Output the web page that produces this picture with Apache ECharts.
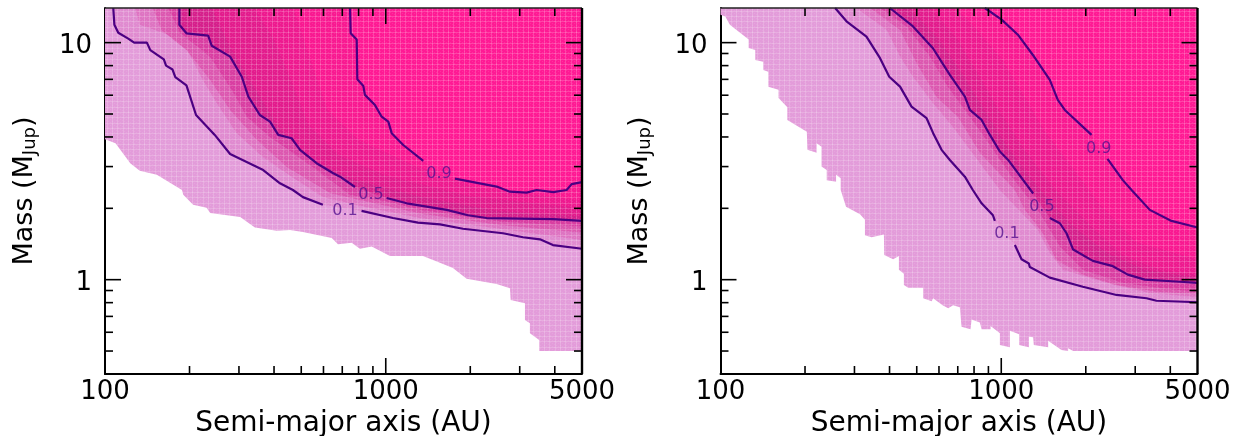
<!DOCTYPE html>
<html><head><meta charset="utf-8"><style>html,body{margin:0;background:#fff}#c{width:1241px;height:436px}</style>
<script src="https://cdn.jsdelivr.net/npm/echarts@6/dist/echarts.min.js"></script></head>
<body><div id="c"></div><script>
const xMajor=[1000], xMinor=[200,300,400,500,600,700,800,900,2000,3000,4000];
const yMajor=[1,10], yMinor=[0.5,0.6,0.7,0.8,0.9,2,3,4,5,6,7,8,9];
const xLabels=[100,1000,5000], yLabels=[1,10];
const levelColors=['#E39CDA','#E08BD0','#DE74C2','#DC58B0','#D93EA2','#D6208C','#E31C8D','#EE1A8F','#F91991','#FF1A94'];

// LEFT PANEL: [semi-major axis, mass]
const edgeL=[[100,3.91],[109,3.76],[116,3.41],[123,3.10],[133,2.88],[153,2.77],[188,2.39],[190,2.28],[206,2.07],[230,2.01],[237,1.91],[303,1.84],[342,1.66],[409,1.61],[456,1.62],[507,1.59],[642,1.50],[676,1.41],[756,1.43],[809,1.35],[891,1.38],[1035,1.26],[1357,1.26],[1560,1.18],[1735,1.12],[1941,1.01],[2483,0.96],[2769,0.92],[2785,0.82],[3132,0.795],[3132,0.676],[3262,0.655],[3262,0.594],[3520,0.557],[3520,0.5],[5000,0.5]];
const c01La=[[107,14],[108,11.9],[111.5,11.0],[121,10.4],[127,10],[141,10],[145,9.3],[162,8.5],[165,8],[174,7.7],[178,7.15],[195,6.6],[211,4.95],[246,4.08],[279,3.39],[366,2.90],[420,2.55],[467,2.39],[507,2.23],[597,2.07]];
const c01Lb=[[820,1.95],[1061,1.82],[1302,1.74],[1560,1.71],[1883,1.64],[2615,1.57],[3080,1.51],[3541,1.48],[3939,1.40],[5000,1.35]];
const c02L=[[128,14],[133,11.9],[188,10.3],[223,6.96],[250,5.57],[294,4.16],[365,3.29],[482,2.63],[597,2.23],[809,2.05],[1324,1.82],[2551,1.64],[5000,1.47]];
const c03L=[[148,14],[159,11.3],[195,9.3],[237,6.96],[279,5.2],[347,3.89],[444,2.99],[633,2.32],[809,2.17],[1324,1.90],[2551,1.70],[5000,1.58]];
const c04L=[[168,14],[185,11.0],[237,8.7],[283,6.31],[320,4.86],[387,4.0],[523,3.11],[746,2.28],[1000,2.14],[1324,1.97],[2551,1.76],[5000,1.68]];
const c05La=[[184,14],[184,11.9],[195,10.95],[233,10.7],[240,9.7],[279,8.73],[307,7.18],[324,5.92],[356,4.95],[387,4.64],[414,4.08],[462,3.95],[495,3.53],[567,3.10],[650,2.81],[687,2.72],[777,2.46]];
const c05Lb=[[1007,2.21],[1187,2.10],[1648,1.97],[1962,1.87],[2287,1.82],[3939,1.80],[5000,1.77]];
const c06L=[[240,14],[280,9.5],[345,6.3],[410,4.5],[520,3.3],[760,2.65],[1300,2.25],[2500,1.95],[5000,1.85]];
const c07L=[[340,14],[400,10.3],[460,6.96],[530,4.5],[680,3.36],[1000,2.75],[1995,2.25],[5000,2.0]];
const c08L=[[470,14],[540,8.45],[620,5.2],[800,3.89],[1250,3.05],[2100,2.45],[5000,2.15]];
const c09La=[[746,14],[750,10.95],[788,10.3],[792,7.0],[832,6.57],[843,6.02],[915,5.46],[967,4.87],[1021,4.64],[1050,4.15],[1154,3.70],[1360,3.17]];
const c09Lb=[[1764,2.67],[2483,2.47],[2769,2.35],[3175,2.33],[3446,2.39],[3949,2.34],[4408,2.39],[4593,2.53],[5000,2.58]];
const labelsL=[[716,1.95,'0.1'],[886,2.28,'0.5'],[1547,2.79,'0.9']];

// RIGHT PANEL
const edgeR=[[100,13.1],[104,12.9],[108,11.9],[126,10.3],[126,9.5],[133,9.3],[133,8.45],[142,8.31],[142,7.67],[148,7.54],[148,6.52],[161,6.32],[161,5.84],[173,5.34],[173,4.72],[203,4.21],[204,3.53],[220,3.43],[220,3.76],[229,3.64],[229,3.0],[239,2.9],[239,2.63],[258,2.59],[258,2.77],[268,2.68],[268,2.39],[280,2.03],[314,1.89],[327,1.79],[327,1.54],[345,1.51],[382,1.55],[383,1.27],[412,1.22],[432,1.26],[432,1.10],[450,1.06],[450,0.95],[466,0.925],[527,0.925],[527,0.835],[565,0.81],[572,0.835],[618,0.78],[647,0.757],[674,0.78],[712,0.765],[722,0.633],[777,0.618],[784,0.68],[839,0.659],[851,0.618],[916,0.618],[916,0.638],[989,0.594],[989,0.53],[1073,0.519],[1073,0.609],[1158,0.588],[1158,0.53],[1254,0.519],[1254,0.575],[1299,0.572],[1306,0.53],[1469,0.519],[1469,0.553],[1639,0.505],[1730,0.5],[1730,0.514],[1803,0.5],[5000,0.5]];
const c01Ra=[[256,14],[281,12.3],[331,10.6],[370,8.6],[399,7.18],[436,6.52],[479,5.37],[542,4.8],[572,4.15],[613,3.53],[656,3.2],[742,2.72],[792,2.39],[851,2.10],[934,1.87],[949,1.77]];
const c01Rb=[[1118,1.40],[1181,1.22],[1254,1.17],[1264,1.13],[1489,1.02],[1952,0.934],[2574,0.862],[3291,0.835],[3572,0.815],[5000,0.803]];
const c02R=[[305,14],[391,11.3],[436,8.73],[485,7.18],[571,5.57],[672,4.42],[989,2.39],[1350,1.62],[1489,1.30],[1657,1.10],[2377,0.968],[3381,0.879],[5000,0.845]];
const c03R=[[341,14],[436,11.3],[499,8.21],[588,5.9],[701,4.86],[839,3.43],[1118,2.39],[1213,1.97],[1407,1.57],[1573,1.21],[1952,1.05],[2574,0.95],[3572,0.89],[5000,0.87]];
const c04R=[[370,14],[460,11.7],[557,8.73],[645,6.52],[851,4.16],[1091,2.71],[1372,1.91],[1617,1.38],[1952,1.10],[2710,0.968],[3761,0.92],[5000,0.89]];
const c05Ra=[[401,14],[485,11.7],[571,9.47],[639,7.67],[656,7.31],[742,5.92],[773,5.2],[851,4.72],[911,4.08],[989,3.47],[1058,3.2],[1299,2.31]];
const c05Rb=[[1489,1.82],[1617,1.73],[1708,1.57],[1803,1.34],[2119,1.20],[2497,1.14],[2823,1.05],[3245,1.0],[4323,0.98],[5000,0.97]];
const c06R=[[470,14],[600,10.3],[730,7.31],[880,5.1],[1040,3.70],[1330,2.51],[1780,1.70],[2380,1.30],[3245,1.10],[5000,1.02]];
const c07R=[[560,14],[700,10.3],[830,7.31],[980,5.2],[1210,3.53],[1560,2.39],[2160,1.62],[2700,1.27],[3670,1.10],[5000,1.05]];
const c08R=[[690,14],[820,11.3],[1010,8.45],[1200,6.02],[1420,4.28],[1820,2.9],[2250,2.07],[3030,1.44],[5000,1.22]];
const c09Ra=[[874,14],[1003,12.5],[1146,10.8],[1296,8.87],[1489,6.96],[1590,5.73],[1684,5.2],[2097,4.08]];
const c09Rb=[[2390,3.23],[2710,2.63],[2911,2.39],[3381,1.97],[4039,1.77],[5000,1.66]];
const labelsR=[[1047,1.56,'0.1'],[1395,2.03,'0.5'],[2225,3.56,'0.9']];

function tile(color){
  const c=document.createElement('canvas');c.width=16;c.height=16;const g=c.getContext('2d');
  g.fillStyle=color;g.fillRect(0,0,16,16);
  g.fillStyle='rgba(255,255,255,0.09)';
  for(let y=0;y<16;y++)for(let x=0;x<16;x++)if((x+y)%3===0&&x%2===0)g.fillRect(x,y,1,1);
  g.fillStyle='rgba(255,255,255,0.18)';
  [0,5,11].forEach(p=>{g.fillRect(p,0,1,16);g.fillRect(0,p,16,1);});
  return c;
}
const LINE='#4B0082', XR=[100,5000], YR=[0.4,14];
const series=[];
const tiles=levelColors.map(c=>tile(c));
function bands(idx,layers){
  series.push({type:'custom',xAxisIndex:idx,yAxisIndex:idx,coordinateSystem:'cartesian2d',clip:true,silent:true,z:2,
    data:layers.map((_,i)=>[100,14,i]),encode:{x:0,y:1},
    renderItem:(p,api)=>{const i=p.dataIndex;
      const pts=layers[i].concat([[5000,14]]).concat(i===0?[[100,14]]:[]);
      return {type:'polygon',z2:i,shape:{points:pts.map(q=>api.coord(q))},
        style:{fill:{image:tiles[i],repeat:'repeat'},stroke:null}};}});
}
function contour(idx,pts){
  series.push({type:'line',xAxisIndex:idx,yAxisIndex:idx,data:pts,symbol:'none',silent:true,z:4,animation:false,
    lineStyle:{color:LINE,width:2.2}});
}
function marks(idx){
  const vx=(list,len)=>({type:'custom',xAxisIndex:idx,yAxisIndex:idx,clip:false,silent:true,z:6,data:list.map(v=>[v,1]),encode:{x:0,y:1},
    renderItem:(p,api)=>{const s=p.coordSys,x=api.coord([api.value(0),1])[0];
      return {type:'group',children:[
        {type:'line',shape:{x1:x,y1:s.y+s.height,x2:x,y2:s.y+s.height-len},style:{stroke:'#000',lineWidth:1.6}},
        {type:'line',shape:{x1:x,y1:s.y,x2:x,y2:s.y+len},style:{stroke:'#000',lineWidth:1.6}}]};}});
  const vy=(list,len)=>({type:'custom',xAxisIndex:idx,yAxisIndex:idx,clip:false,silent:true,z:6,data:list.map(v=>[100,v]),encode:{x:0,y:1},
    renderItem:(p,api)=>{const s=p.coordSys,y=api.coord([100,api.value(1)])[1];
      return {type:'group',children:[
        {type:'line',shape:{x1:s.x,y1:y,x2:s.x+len,y2:y},style:{stroke:'#000',lineWidth:1.6}},
        {type:'line',shape:{x1:s.x+s.width,y1:y,x2:s.x+s.width-len,y2:y},style:{stroke:'#000',lineWidth:1.6}}]};}});
  series.push(vx(xMajor,16),vx(xMinor,8),vy(yMajor,16),vy(yMinor,8));
  series.push({type:'custom',xAxisIndex:idx,yAxisIndex:idx,clip:false,silent:true,z:6,data:[[100,14]],encode:{x:0,y:1},
    renderItem:(p,api)=>{const s=p.coordSys;return {type:'group',children:[
      {type:'line',shape:{x1:s.x,y1:s.y,x2:s.x+s.width,y2:s.y},style:{stroke:'#222',lineWidth:1.5}},
      {type:'line',shape:{x1:s.x+s.width,y1:s.y,x2:s.x+s.width,y2:s.y+s.height},style:{stroke:'#000',lineWidth:2.4}}]};}});
}
function labels(idx,list){
  series.push({type:'scatter',xAxisIndex:idx,yAxisIndex:idx,silent:true,z:5,symbolSize:1,itemStyle:{color:'transparent'},
    data:list.map(d=>({value:[d[0],d[1]],name:d[2]})),
    label:{show:true,position:'inside',formatter:'{b}',color:'#55108E',fontSize:16,fontFamily:'DejaVu Sans'}});
}
function panel(idx,layers,lines,lab){
  bands(idx,layers);
  lines.forEach(l=>contour(idx,l));
  marks(idx);
  labels(idx,lab);
}
panel(0,[edgeL,c01La.concat(c01Lb),c02L,c03L,c04L,c05La.concat(c05Lb),c06L,c07L,c08L,c09La.concat(c09Lb)],[c01La,c01Lb,c05La,c05Lb,c09La,c09Lb],labelsL);
panel(1,[edgeR,c01Ra.concat(c01Rb),c02R,c03R,c04R,c05Ra.concat(c05Rb),c06R,c07R,c08R,c09Ra.concat(c09Rb)],[c01Ra,c01Rb,c05Ra,c05Rb,c09Ra,c09Rb],labelsR);

const F='DejaVu Sans';
const near=(v,l)=>l.some(t=>Math.abs(v-t)<1e-6*t);
const mkX=i=>({type:'log',gridIndex:i,min:XR[0],max:XR[1],logBase:10,name:'Semi-major axis (AU)',nameLocation:'middle',nameGap:34,
  nameTextStyle:{fontSize:28,fontFamily:F,color:'#000'},splitLine:{show:false},minorTick:{show:false},axisTick:{show:false},
  axisLine:{show:true,onZero:false,lineStyle:{color:'#000',width:2}},
  axisLabel:{show:true,fontSize:26,fontFamily:F,color:'#000',margin:5,showMinLabel:true,showMaxLabel:true,hideOverlap:false,
    formatter:v=>near(v,xLabels)?String(Math.round(v)):''}});
const mkY=i=>({type:'log',gridIndex:i,min:YR[0],max:YR[1],logBase:10,name:'Mass (M{s|Jup})',nameLocation:'middle',nameGap:66,
  nameTextStyle:{fontSize:27,fontFamily:F,color:'#000',rich:{s:{fontSize:18,fontFamily:F,color:'#000',padding:[11,0,0,0]}}},
  splitLine:{show:false},minorTick:{show:false},axisTick:{show:false},
  axisLine:{show:true,onZero:false,lineStyle:{color:'#000',width:2}},
  axisLabel:{show:true,color:'#000',margin:13,showMinLabel:true,showMaxLabel:true,hideOverlap:false,
    rich:{t:{fontSize:26,fontFamily:F,color:'#000',padding:[7,0,0,0]}},
    formatter:v=>near(v,yLabels)?'{t|'+Math.round(v)+'}':''}});
const chart=echarts.init(document.getElementById('c'),null,{renderer:'canvas'});
chart.setOption({animation:false,backgroundColor:'#fff',
  grid:[{left:105,top:8,width:477,height:366,outerBoundsMode:'none'},{left:720.5,top:8,width:477,height:366,outerBoundsMode:'none'}],
  xAxis:[mkX(0),mkX(1)],yAxis:[mkY(0),mkY(1)],series});
</script></body></html>
